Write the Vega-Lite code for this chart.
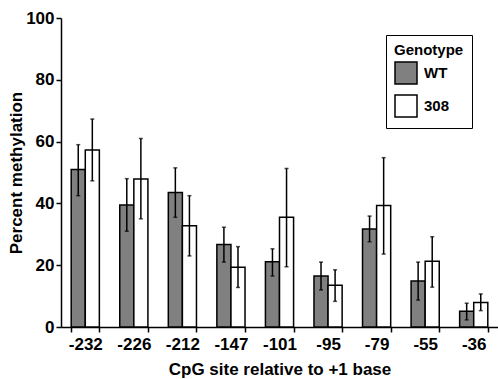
{
  "$schema": "https://vega.github.io/schema/vega-lite/v6.json",
  "width": 437,
  "height": 309,
  "autosize": {"type": "none"},
  "padding": {"left": 61, "top": 18, "right": 0, "bottom": 52},
  "config": {
    "view": {"stroke": null},
    "font": "Liberation Sans",
    "axis": {"domainColor": "#000", "domainWidth": 1.5, "tickColor": "#000", "tickWidth": 1.5, "labelColor": "#000", "titleColor": "#000", "labelFont": "Liberation Sans", "titleFont": "Liberation Sans", "labelFontWeight": "bold", "titleFontWeight": "bold", "labelFontSize": 17, "titleFontSize": 17, "grid": false}
  },
  "data": {"values": [
    {"site": "-232", "genotype": "WT", "mean": 51, "lo": 42.5, "hi": 59},
    {"site": "-232", "genotype": "308", "mean": 57.3, "lo": 47.3, "hi": 67.3},
    {"site": "-226", "genotype": "WT", "mean": 39.5, "lo": 31, "hi": 48},
    {"site": "-226", "genotype": "308", "mean": 47.9, "lo": 35, "hi": 61},
    {"site": "-212", "genotype": "WT", "mean": 43.5, "lo": 35.5, "hi": 51.5},
    {"site": "-212", "genotype": "308", "mean": 32.8, "lo": 23, "hi": 42.5},
    {"site": "-147", "genotype": "WT", "mean": 26.7, "lo": 21, "hi": 32.3},
    {"site": "-147", "genotype": "308", "mean": 19.3, "lo": 12.8, "hi": 26},
    {"site": "-101", "genotype": "WT", "mean": 21.1, "lo": 16.5, "hi": 25.3},
    {"site": "-101", "genotype": "308", "mean": 35.5, "lo": 19.5, "hi": 51.3},
    {"site": "-95", "genotype": "WT", "mean": 16.5, "lo": 12, "hi": 21},
    {"site": "-95", "genotype": "308", "mean": 13.5, "lo": 8.3, "hi": 18.5},
    {"site": "-79", "genotype": "WT", "mean": 31.7, "lo": 27.6, "hi": 35.9},
    {"site": "-79", "genotype": "308", "mean": 39.3, "lo": 23.6, "hi": 54.8},
    {"site": "-55", "genotype": "WT", "mean": 14.9, "lo": 8.7, "hi": 21},
    {"site": "-55", "genotype": "308", "mean": 21.3, "lo": 12.9, "hi": 29.2},
    {"site": "-36", "genotype": "WT", "mean": 5.1, "lo": 2.3, "hi": 7.7},
    {"site": "-36", "genotype": "308", "mean": 7.9, "lo": 5.3, "hi": 10.7}
  ]},
  "encoding": {
    "x": {"field": "site", "type": "nominal", "sort": null,
      "scale": {"paddingInner": 0.42, "paddingOuter": 0.21},
      "axis": {"title": "CpG site relative to +1 base", "labelAngle": 0, "tickBand": "extent", "tickSize": 5, "labelPadding": 4, "titleY": 34, "titleBaseline": "top"}},
    "xOffset": {"field": "genotype", "type": "nominal", "sort": ["WT", "308"]}
  },
  "resolve": {"axis": {"y": "independent"}},
  "layer": [
    {
      "mark": {"type": "bar", "stroke": "#000", "strokeWidth": 1.5},
      "encoding": {
        "y": {"field": "mean", "type": "quantitative", "scale": {"domain": [0, 100], "nice": false},
          "axis": {"title": "Percent methylation", "orient": "left", "values": [0, 10, 20, 30, 40, 50, 60, 70, 80, 90, 100], "tickCount": {"expr": "10"}, "labelOverlap": false, "labelSeparation": 0, "tickSize": 5, "labelPadding": 2, "titleX": -36}},
        "fill": {"field": "genotype", "type": "nominal", "sort": ["WT", "308"],
          "scale": {"domain": ["WT", "308"], "range": ["#808080", "#ffffff"]},
          "legend": {"title": "Genotype", "orient": "none", "legendX": 325, "legendY": 17,
            "strokeColor": "#000", "fillColor": "#fff", "padding": 8,
            "titleFont": "Liberation Sans", "titleFontSize": 15, "titleFontWeight": "bold", "titleColor": "#000",
            "labelFont": "Liberation Sans", "labelFontSize": 15, "labelFontWeight": "bold", "labelColor": "#000",
            "symbolType": "square", "symbolSize": 484, "symbolStrokeColor": "#000", "symbolStrokeWidth": 1.5,
            "rowPadding": 5, "titlePadding": 3, "labelOffset": 6}}
      }
    },
    {
      "mark": {"type": "rule", "color": "#000", "strokeWidth": 1.5},
      "encoding": {
        "y": {"field": "lo", "type": "quantitative", "axis": null},
        "y2": {"field": "hi"}
      }
    },
    {
      "mark": {"type": "tick", "orient": "horizontal", "color": "#000", "size": 4, "thickness": 1.5},
      "encoding": {"y": {"field": "hi", "type": "quantitative", "axis": null}}
    },
    {
      "mark": {"type": "tick", "orient": "horizontal", "color": "#000", "size": 4, "thickness": 1.5},
      "encoding": {"y": {"field": "lo", "type": "quantitative", "axis": null}}
    }
  ]
}
